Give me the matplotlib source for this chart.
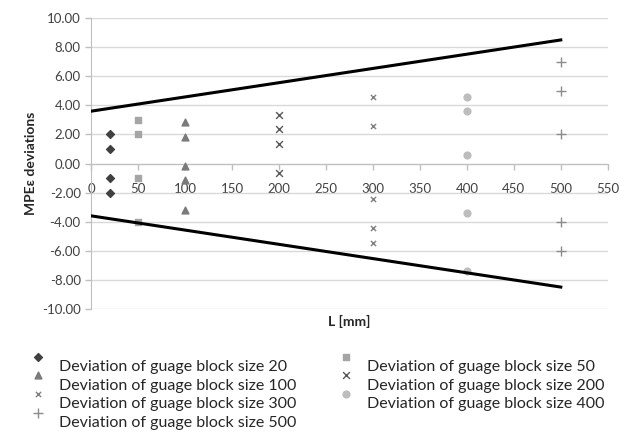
import numpy as np
import matplotlib
matplotlib.use("Agg")
import matplotlib.pyplot as plt
from matplotlib.ticker import FormatStrFormatter

plt.rcParams["font.family"] = ["Lato", "DejaVu Sans"]

# measured deviations per gauge block size (x = block size in mm)
dev_20 = [2.0, 1.0, -1.0, -2.0]
dev_50 = [3.0, 2.0, -1.0, -4.0]
dev_100 = [2.85, 1.85, -0.15, -1.15, -3.2]
dev_200 = [3.35, 2.35, 1.35, -0.65]
dev_300 = [4.55, 2.55, -2.45, -4.45, -5.45]
dev_400 = [4.6, 3.6, 0.6, -3.4, -7.4]
dev_500 = [7.0, 5.0, 2.0, -4.0, -6.0]

# MPE limit lines
mpe_L = [0, 500]
mpe_upper = [3.6, 8.5]
mpe_lower = [-3.6, -8.5]

series = [
    (20, dev_20, "D", "#404040", 16),
    (50, dev_50, "s", "#a5a5a5", 24),
    (100, dev_100, "^", "#7a7a7a", 24),
    (200, dev_200, "x", "#595959", 24),
    (300, dev_300, "x", "#808080", 14),
    (400, dev_400, "o", "#bdbdbd", 24),
    (500, dev_500, "+", "#8c8c8c", 50),
]

fig = plt.figure(figsize=(6.24, 4.32), dpi=100, facecolor="white")
ax = fig.add_axes([0.146, 0.285, 0.828, 0.673])

handles = {}
for size, vals, mk, col, ms in series:
    h = ax.scatter([size] * len(vals), vals, marker=mk, color=col, s=ms,
                   linewidths=1.0, zorder=3,
                   label=f"Deviation of guage block size {size}")
    handles[size] = h

ax.plot(mpe_L, mpe_upper, color="black", lw=2.2, zorder=4)
ax.plot(mpe_L, mpe_lower, color="black", lw=2.2, zorder=4)

ax.set_xlim(0, 550)
ax.set_ylim(-10, 10)
ax.set_xticks(np.arange(0, 551, 50))
ax.set_yticks(np.arange(-10, 10.1, 2))
ax.yaxis.set_major_formatter(FormatStrFormatter("%.2f"))

ax.grid(axis="y", color="#d9d9d9", lw=1)
ax.set_axisbelow(True)
for s in ["top", "right"]:
    ax.spines[s].set_visible(False)
ax.spines["bottom"].set_position(("data", 0))
ax.spines["bottom"].set_color("#bfbfbf")
ax.spines["left"].set_color("#bfbfbf")
ax.tick_params(axis="both", colors="#bfbfbf", labelcolor="#404040",
               labelsize=9.5, length=4, width=1)
ax.tick_params(axis="x", pad=10)

ax.set_ylabel("MPEε deviations", fontsize=10, fontweight="bold",
              color="#262626")
ax.yaxis.set_label_coords(-0.105, 0.5)
ax.set_xlabel("L [mm]", fontsize=10, fontweight="bold", color="#262626")
ax.xaxis.set_label_coords(0.5, -0.02)

order = [20, 100, 300, 500, 50, 200, 400]
leg = fig.legend([handles[k] for k in order],
                 [handles[k].get_label() for k in order],
                 ncol=2, frameon=False, loc="upper left",
                 bbox_to_anchor=(0.025, 0.2), fontsize=11.5,
                 handletextpad=0.8, columnspacing=2.65, labelspacing=0.28,
                 handlelength=1.0, scatteryoffsets=[1.3],
                 labelcolor="#262626")

fig.savefig("out.png", dpi=100)
